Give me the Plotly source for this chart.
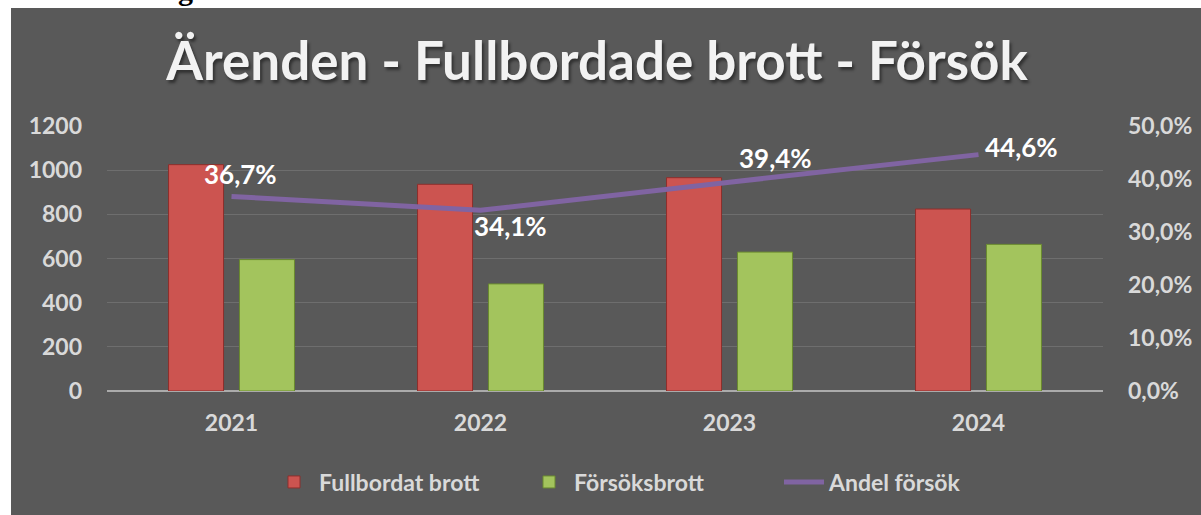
import plotly.graph_objects as go

years = ["2021", "2022", "2023", "2024"]
fullbordat = [1025, 936, 966, 824]
forsok = [595, 485, 629, 664]
andel = [0.367, 0.341, 0.394, 0.446]

# label offsets (px) for the percentage labels, as placed in the reference
lab_dx = [9, 30, 46, 43]
lab_dy = [22, -16, 24, 8]

BG = "#595959"
TXT = "#D9D9D9"
FONT = "Lato"

fig = go.Figure()
fig.add_trace(go.Bar(
    x=years, y=fullbordat, name="Fullbordat brott",
    marker=dict(color="#CC5450", line=dict(color="#8E2F2C", width=1)),
))
fig.add_trace(go.Bar(
    x=years, y=forsok, name="Försöksbrott",
    marker=dict(color="#A3C45D", line=dict(color="#6A8A30", width=1)),
))
fig.add_trace(go.Scatter(
    x=years, y=andel, name="Andel försök", yaxis="y2", mode="lines",
    line=dict(color="#8064A2", width=5),
))

for i, (v, dx, dy) in enumerate(zip(andel, lab_dx, lab_dy)):
    fig.add_annotation(
        x=i, y=v, xref="x", yref="y2", showarrow=False,
        text=f"{v*100:.1f}".replace(".", ",") + "%",
        xshift=dx, yshift=dy,
        font=dict(family=FONT, size=26, color="white", weight="bold"),
    )

# white strips around the gray chart area
fig.add_shape(type="rect", xref="paper", yref="paper", layer="below",
              x0=-0.2, x1=1.2, y0=(391 - 8) / 265, y1=1.6,
              fillcolor="white", line=dict(width=0))
fig.add_shape(type="rect", xref="paper", yref="paper", layer="below",
              x0=-0.2, x1=(11 - 107) / 996, y0=-0.6, y1=1.6,
              fillcolor="white", line=dict(width=0))
# fragment of text from the page above the chart
fig.add_annotation(text="g", xref="paper", yref="paper", showarrow=False,
                   x=(176 - 107) / 996, y=(391 - 8) / 265, yanchor="bottom",
                   font=dict(family="Liberation Serif", size=30, color="black", weight="bold"))

fig.update_layout(
    width=1201, height=515,
    margin=dict(l=107, r=98, t=126, b=124, autoexpand=False),
    paper_bgcolor=BG, plot_bgcolor=BG,
    separators=", ",
    barmode="group", bargap=0.43, bargroupgap=0.225,
    title=dict(
        text="Ärenden - Fullbordade brott - Försök",
        x=(597 - 107) / 996, xref="paper", xanchor="center", y=1 - 61 / 515, yanchor="middle",
        font=dict(family=FONT, size=53, color="#F2F2F2", weight="bold",
                  shadow="2px 3px 3px rgba(0,0,0,0.45)"),
    ),
    xaxis=dict(
        type="category", range=[-0.5, 3.5],
        showgrid=False, showline=False, ticks="",
        tickfont=dict(family=FONT, size=23, color=TXT, weight="bold"),
        ticklabelstandoff=16,
    ),
    yaxis=dict(
        range=[0, 1200], dtick=200, showgrid=True, gridcolor="#6E6E6E", gridwidth=1,
        zeroline=True, zerolinecolor="#ABABAB", zerolinewidth=2,
        showline=False, ticks="",
        tickfont=dict(family=FONT, size=23, color=TXT, weight="bold"),
        ticklabelstandoff=24,
    ),
    yaxis2=dict(
        overlaying="y", side="right", range=[0, 0.5], dtick=0.1,
        tickformat=".1%", showgrid=False, zeroline=False, showline=False, ticks="",
        tickfont=dict(family=FONT, size=23, color=TXT, weight="bold"),
        ticklabelstandoff=24,
    ),
    legend=dict(
        orientation="h", x=(269 - 107) / 996, xanchor="left",
        y=(391 - 482) / 265, yanchor="middle",
        font=dict(family=FONT, size=23, color=TXT, weight="bold"),
        bgcolor="rgba(0,0,0,0)", entrywidth=200, entrywidthmode="pixels",
        itemwidth=40, tracegroupgap=0,
    ),
    showlegend=True,
)

fig.write_html("out.html", config={"displayModeBar": False},
               post_script="document.body.style.margin='0';")
